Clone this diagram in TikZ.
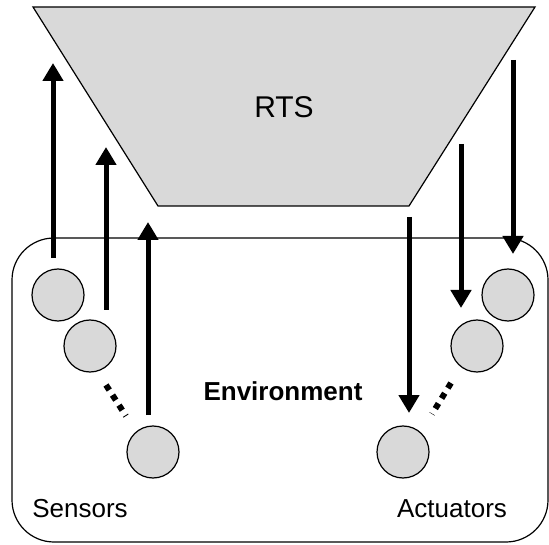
\documentclass[tikz,border=0pt]{standalone}
\usepackage{fontspec}
\setmainfont{Liberation Sans}
\usetikzlibrary{arrows.meta}
\definecolor{boxgray}{RGB}{217,217,217}
\tikzset{
  dev/.style={circle, draw=black, line width=1.2pt, fill=boxgray, minimum size=52pt, inner sep=0pt},
  flow/.style={line width=5pt, -{Triangle[width=20pt,length=18pt]}},
  dots/.style={line width=6pt, dash pattern=on 6pt off 6pt},
  lbl/.style={inner sep=0pt, font=\fontsize{26}{30}\selectfont},
}
\begin{document}
\begin{tikzpicture}[x=1pt,y=-1pt]
\useasboundingbox (0,0) rectangle (549,545);
% RTS trapezoid
\draw[line width=1.2pt, fill=boxgray] (33,7) -- (535,7) -- (409,206) -- (158,206) -- cycle;
\node[inner sep=0pt, font=\fontsize{30}{34}\selectfont] (rts) at (284,107) {RTS};
% Environment
\draw[line width=1.2pt, rounded corners=42pt] (12,238) rectangle (548,542);
\node[lbl, font=\fontsize{26}{30}\selectfont\bfseries] (env) at (283,391) {Environment};
\node[lbl] (sens) at (80,509) {Sensors};
\node[lbl] (act) at (452,509) {Actuators};
% sensors
\node[dev] (s1) at (58,295) {};
\node[dev] (s2) at (90,346) {};
\node[dev] (s3) at (153,452) {};
% actuators
\node[dev] (a1) at (508,295) {};
\node[dev] (a2) at (477,346) {};
\node[dev] (a3) at (403,452) {};
% arrow end points
\coordinate (u1s) at (53,258); \coordinate (u1e) at (53,63);
\coordinate (u2s) at (106,310); \coordinate (u2e) at (106,147);
\coordinate (u3s) at (148,415); \coordinate (u3e) at (148,222);
\coordinate (d1s) at (513,60); \coordinate (d1e) at (513,254);
\coordinate (d2s) at (461,144); \coordinate (d2e) at (461,308);
\coordinate (d3s) at (409,217); \coordinate (d3e) at (409,413);
\draw[flow] (u1s) -- (u1e);
\draw[flow] (u2s) -- (u2e);
\draw[flow] (u3s) -- (u3e);
\draw[flow] (d1s) -- (d1e);
\draw[flow] (d2s) -- (d2e);
\draw[flow] (d3s) -- (d3e);
% dotted ellipses
\coordinate (sd1) at (106,385); \coordinate (sd2) at (126,416);
\coordinate (ad1) at (451,383); \coordinate (ad2) at (432,414);
\draw[dots] (sd1) -- (sd2);
\draw[dots] (ad1) -- (ad2);
\end{tikzpicture}
\end{document}
